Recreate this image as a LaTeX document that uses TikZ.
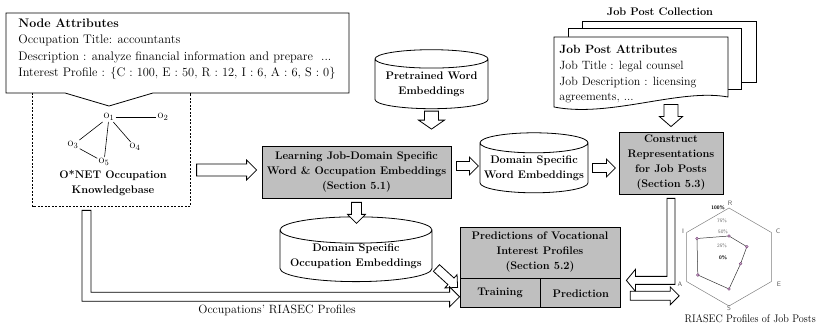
\documentclass[tikz,border=0pt]{standalone}
\usepackage{amsmath}
\usepackage{tikz}
\usetikzlibrary{positioning,calc,shapes.geometric}
\definecolor{boxgray}{RGB}{191,191,191}
\definecolor{markpurple}{RGB}{120,60,120}
\newcommand\normtxt{\fontsize{12}{15}\selectfont}
\newcommand\boldtxt{\fontsize{11}{15}\selectfont\bfseries}
\tikzset{
  bshaft/.store in=\bshaft, bshaft=4.5pt,
  bhead/.store in=\bhead, bhead=9pt,
  blen/.store in=\blen, blen=9pt,
  blockarrow/.style={draw, fill=white, to path={
    ($(\tikztostart)!\bshaft!90:(\tikztotarget)$) --
    ($(\tikztotarget)!\blen!(\tikztostart)!\bshaft!-90:(\tikztostart)$) --
    ($(\tikztotarget)!\blen!(\tikztostart)!\bhead!-90:(\tikztostart)$) --
    (\tikztotarget) --
    ($(\tikztotarget)!\blen!(\tikztostart)!\bhead!90:(\tikztostart)$) --
    ($(\tikztotarget)!\blen!(\tikztostart)!\bshaft!90:(\tikztostart)$) --
    ($(\tikztostart)!\bshaft!-90:(\tikztotarget)$) -- cycle}},
  elbowright/.style={draw, fill=white, to path={
    let \p1=(\tikztostart), \p2=(\tikztotarget) in
    (\x1-\bshaft,\y1) -- (\x1-\bshaft,\y2-\bshaft) -- (\x2-\blen,\y2-\bshaft) -- (\x2-\blen,\y2-\bhead)
    -- (\x2,\y2) -- (\x2-\blen,\y2+\bhead) -- (\x2-\blen,\y2+\bshaft) -- (\x1+\bshaft,\y2+\bshaft)
    -- (\x1+\bshaft,\y1) -- cycle}},
  elbowleft/.style={draw, fill=white, to path={
    let \p1=(\tikztostart), \p2=(\tikztotarget) in
    (\x1+\bshaft,\y1) -- (\x1+\bshaft,\y2-\bshaft) -- (\x2+\blen,\y2-\bshaft) -- (\x2+\blen,\y2-\bhead)
    -- (\x2,\y2) -- (\x2+\blen,\y2+\bhead) -- (\x2+\blen,\y2+\bshaft) -- (\x1-\bshaft,\y2+\bshaft)
    -- (\x1-\bshaft,\y1) -- cycle}},
  grayblock/.style={draw, fill=boxgray, align=center, font=\boldtxt, inner sep=0pt},
  dbase/.style={cylinder, shape border rotate=90, aspect=0.2, draw, fill=white,
    align=center, font=\boldtxt, inner sep=0pt},
  page/.style={draw, fill=white, inner sep=0pt},
  onode/.style={inner sep=1pt, font=\normtxt},
  radarlbl/.style={inner sep=0pt, text=gray!70!black, font=\sffamily\fontsize{6.5}{7}\selectfont},
  pctlbl/.style={inner sep=0pt, text=gray!80!black, font=\sffamily\fontsize{5}{6}\selectfont}
}

\begin{document}
\begin{tikzpicture}[x=1pt, y=-1pt, line width=0.8pt, font=\normtxt]
\useasboundingbox (0,0) rectangle (817,323);

% node attributes callout
\draw[fill=white] (6,13) -- (349,13) -- (349,93) -- (153,93) -- (109,106) -- (65,93) -- (6,93) -- cycle;
\node[anchor=north west, align=left, inner sep=0pt, font=\fontsize{12.4}{16.5}\selectfont] (attr) at (18,18)
  {\textbf{Node Attributes}\\
   Occupation Title: accountants\\
   Description : analyze financial information and prepare\ \ ...\\
   Interest Profile : \{C : 100, E : 50, R : 12, I : 6, A : 6, S : 0\}};

% knowledgebase
\node[minimum width=157, minimum height=113, inner sep=0pt] (kb) at (111.5,149.5) {};
\draw[dash pattern=on 2pt off 1.5pt, line width=0.6pt] (kb.north west) -- (kb.south west) -- (kb.south east) -- (kb.north east);
\node[onode] (o1) at (109,117) {o$_1$};
\node[onode] (o2) at (163,117) {o$_2$};
\node[onode] (o3) at (73,145) {o$_3$};
\node[onode] (o4) at (135,147) {o$_4$};
\node[onode] (o5) at (104,162) {o$_5$};
\foreach \a/\b in {o1/o2, o1/o3, o1/o4, o1/o5, o3/o5}{
\draw[line width=0.6pt] (\a) -- (\b);
}
\node[font=\boldtxt, align=center, inner sep=0pt] (kbname) at (113,183) {O*NET Occupation\\Knowledgebase};

% embeddings and learning
\node[dbase, minimum width=113, minimum height=59] (pwe) at (431.5,84) {Pretrained Word\\Embeddings};
\node[grayblock, minimum width=189, minimum height=52] (learn) at (356.5,172)
  {Learning Job-Domain Specific\\Word \& Occupation Embeddings\\(Section 5.1)};
\node[dbase, minimum width=108, minimum height=60] (dwe) at (534,168) {Domain Specific\\Word Embeddings};
\node[dbase, minimum width=152, minimum height=60] (occ) at (356,256) {Domain Specific\\Occupation Embeddings};
\node[grayblock, minimum width=104, minimum height=62] (cons) at (671,163)
  {Construct\\Representations\\for Job Posts\\(Section 5.3)};

% job post collection
\node[font=\boldtxt] (coll) at (660,12) {Job Post Collection};
\node[page, minimum width=174, minimum height=61, anchor=north west] (post3) at (582,21) {};
\node[page, minimum width=173, minimum height=61, anchor=north west] (post2) at (568,28) {};
\draw[fill=white] (554,37) -- (728,37) -- (728,97) .. controls (680,88) and (610,118) .. (554,107) -- cycle;
\node[anchor=north west, align=left, inner sep=0pt, font=\fontsize{12}{15.7}\selectfont] (post1) at (559,45)
  {\textbf{Job Post Attributes}\\
   Job Title : legal counsel\\
   Job Description : licensing\\
   agreements, ...};

% prediction block
\node[grayblock, minimum width=160, minimum height=51] (pred) at (540,252.5)
  {Predictions of Vocational\\Interest Profiles\\(Section 5.2)};
\node[grayblock, minimum width=80, minimum height=29, anchor=north west] (train) at (pred.south west) {Training};
\node[grayblock, minimum width=80, minimum height=29, right=0pt of train] (predict) {Prediction};

% block arrows
\draw[blockarrow, bshaft=6pt, bhead=10pt, blen=10pt] ([xshift=-65pt,yshift=2pt]learn.west) to ([xshift=-5pt,yshift=2pt]learn.west);
\draw[blockarrow, bshaft=7pt, bhead=13pt] ([yshift=-2pt]pwe.south) to ([yshift=-20pt]pwe.south);
\draw[blockarrow] ([xshift=5pt,yshift=6pt]learn.east) to ([xshift=27pt,yshift=6pt]learn.east);
\draw[blockarrow] ([xshift=4pt]dwe.east) to ([xshift=27pt]dwe.east);
\draw[blockarrow, bshaft=7pt, bhead=11.5pt, blen=10pt] ([yshift=27pt]cons.north) to ([yshift=5pt]cons.north);
\draw[blockarrow, bshaft=5pt] ([yshift=-4pt]learn.south) to ([yshift=-25pt]learn.south);
\draw[blockarrow] ([xshift=4pt,yshift=-12pt]occ.east) to ([xshift=-2pt,yshift=-9pt]train.north west);
\draw[elbowright, bshaft=4.5pt, bhead=10pt, blen=10pt] ([xshift=-25pt,yshift=-4pt]kb.south) to ([yshift=-3.5pt]train.west);
\draw[elbowleft, bshaft=4pt, bhead=11pt, blen=9pt] ([yshift=-4pt]cons.south) to ([xshift=6pt,yshift=-2pt]pred.south east);
\draw[blockarrow] ([xshift=9pt,yshift=-2.5pt]predict.east) to ([xshift=58pt,yshift=-2.5pt]predict.east);
\node (occlabel) at (277,310) {Occupations' RIASEC Profiles};

% radar chart
\begin{scope}[shift={(729,257)}]
\draw[gray, line width=0.5pt] (-90:49) -- (-30:49) -- (30:49) -- (90:49) -- (150:49) -- (210:49) -- cycle;
\draw[black!80, line width=0.5pt] (-90:21) -- (-30:20.6) -- (30:13.4) -- (90:32) -- (150:36) -- (210:37) -- cycle;
\foreach \a/\r in {-90/21, -30/20.6, 30/13.4, 90/32, 150/36, 210/37}{
\draw[markpurple, fill=markpurple!40, line width=0.4pt] (\a:\r) circle (1.4pt);
}
\foreach \t/\x/\y in {R/1/-54, C/49/-26, E/50/27, S/0/51.5, A/-49/27, I/-46/-26}{
\node[radarlbl] (ax\t) at (\x,\y) {\t};
}
\node[pctlbl, font=\sffamily\bfseries\fontsize{5}{6}\selectfont, text=black] (p100) at (-11,-49) {100\%};
\node[pctlbl] (p75) at (-7,-36) {75\%};
\node[pctlbl] (p50) at (-6,-25) {50\%};
\node[pctlbl] (p25) at (-7,-11) {25\%};
\node[pctlbl, font=\sffamily\bfseries\fontsize{5}{6}\selectfont, text=black] (p0) at (-6,1) {0\%};
\end{scope}
\node[anchor=east, xscale=0.93, transform shape, font=\fontsize{11}{13}\selectfont, inner sep=1pt] (riaseclabel) at (817,318.5) {RIASEC Profiles of Job Posts};
\end{tikzpicture}
\end{document}
